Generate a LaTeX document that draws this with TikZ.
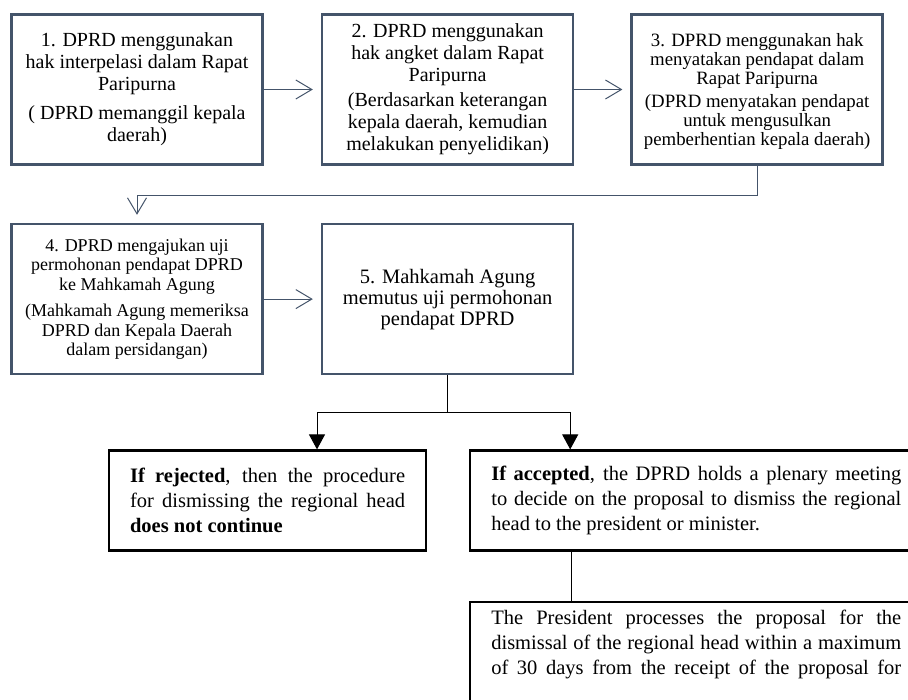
\documentclass[tikz,border=0pt]{standalone}
\usepackage{fontspec}
\setmainfont{Liberation Serif}
\usepackage{xcolor}
\usetikzlibrary{positioning,arrows.meta}
\definecolor{slate}{HTML}{44546A}

\begin{document}
\begin{tikzpicture}[
  x=1pt, y=-1pt,
  node distance=57pt and 57pt,
  stepbox/.style={draw=slate, line width=2.6pt, align=center, inner sep=3pt, minimum width=251pt, minimum height=150pt, font=\fontsize{20}{22}\selectfont},
  resbox/.style={draw, line width=2.2pt, align=justify, inner xsep=21pt, inner ysep=6pt, minimum height=100pt, font=\fontsize{20.5}{25}\selectfont},
  arr/.style={draw=slate, line width=1pt, -{Straight Barb[length=16pt,width=19pt]}, shorten >=8pt},
  tri/.style={line width=1pt, -{Triangle[length=15pt,width=16pt]}}]

\useasboundingbox (0,0) rectangle (908,700);
\clip (0,0) rectangle (908,700);

\node[stepbox] (interp) at (137,89.5) {1. DPRD menggunakan\\hak interpelasi dalam Rapat\\Paripurna\\[7pt]( DPRD memanggil kepala\\daerah)};
\node[stepbox, right=57pt of interp] (angket) {2. DPRD menggunakan\\hak angket dalam Rapat\\Paripurna\\[3pt](Berdasarkan keterangan\\kepala daerah, kemudian\\melakukan penyelidikan)};
\node[stepbox, right=56pt of angket, font=\fontsize{18.8}{19}\selectfont, text depth=-16pt] (pendapat) {3. DPRD menggunakan hak\\menyatakan pendapat dalam\\Rapat Paripurna\\[4pt](DPRD menyatakan pendapat\\untuk mengusulkan\\pemberhentian kepala daerah)};

\node[stepbox, below=57pt of interp, font=\fontsize{18}{19.5}\selectfont] (ujiMA) {4. DPRD mengajukan uji\\permohonan pendapat DPRD\\ke Mahkamah Agung\\[7pt](Mahkamah Agung memeriksa\\DPRD dan Kepala Daerah\\dalam persidangan)};
\node[stepbox, right=57pt of ujiMA, font=\fontsize{20.5}{21}\selectfont] (putusMA) {5. Mahkamah Agung\\memutus uji permohonan\\pendapat DPRD};

\draw[arr] (interp) -- (angket);
\draw[arr] (angket) -- (pendapat);
\draw[arr] (pendapat.south) -- ++(0,30) -| (ujiMA.north);
\draw[arr] (ujiMA) -- (putusMA);

% outcome of the decision
\node[resbox, text width=275pt, below=74pt of putusMA, xshift=-180pt] (rejected) {\textbf{If rejected}, then the procedure\linebreak for dismissing the regional head\linebreak \textbf{does not continue}};
\node[resbox, text width=410pt, right=42pt of rejected] (accepted) {\textbf{If accepted}, the DPRD holds a plenary meeting\linebreak to decide on the proposal to dismiss the regional\linebreak head to the president or minister.};
\node[resbox, text width=410pt, minimum height=0pt, inner ysep=8pt, text depth=150pt, below=49pt of accepted] (president) {The President processes the proposal for the\linebreak dismissal of the regional head within a maximum\linebreak of 30 days from the receipt of the proposal for\linebreak};

\draw[line width=1pt] (putusMA.south) -- ++(0,37) coordinate (split);
\draw[tri] (split) -| ([xshift=209pt]rejected.north west);
\draw[tri] (split) -| ([xshift=101pt]accepted.north west);
\draw[line width=1pt] ([xshift=102pt]accepted.south west) -- ([xshift=102pt]president.north west);
\end{tikzpicture}
\end{document}
